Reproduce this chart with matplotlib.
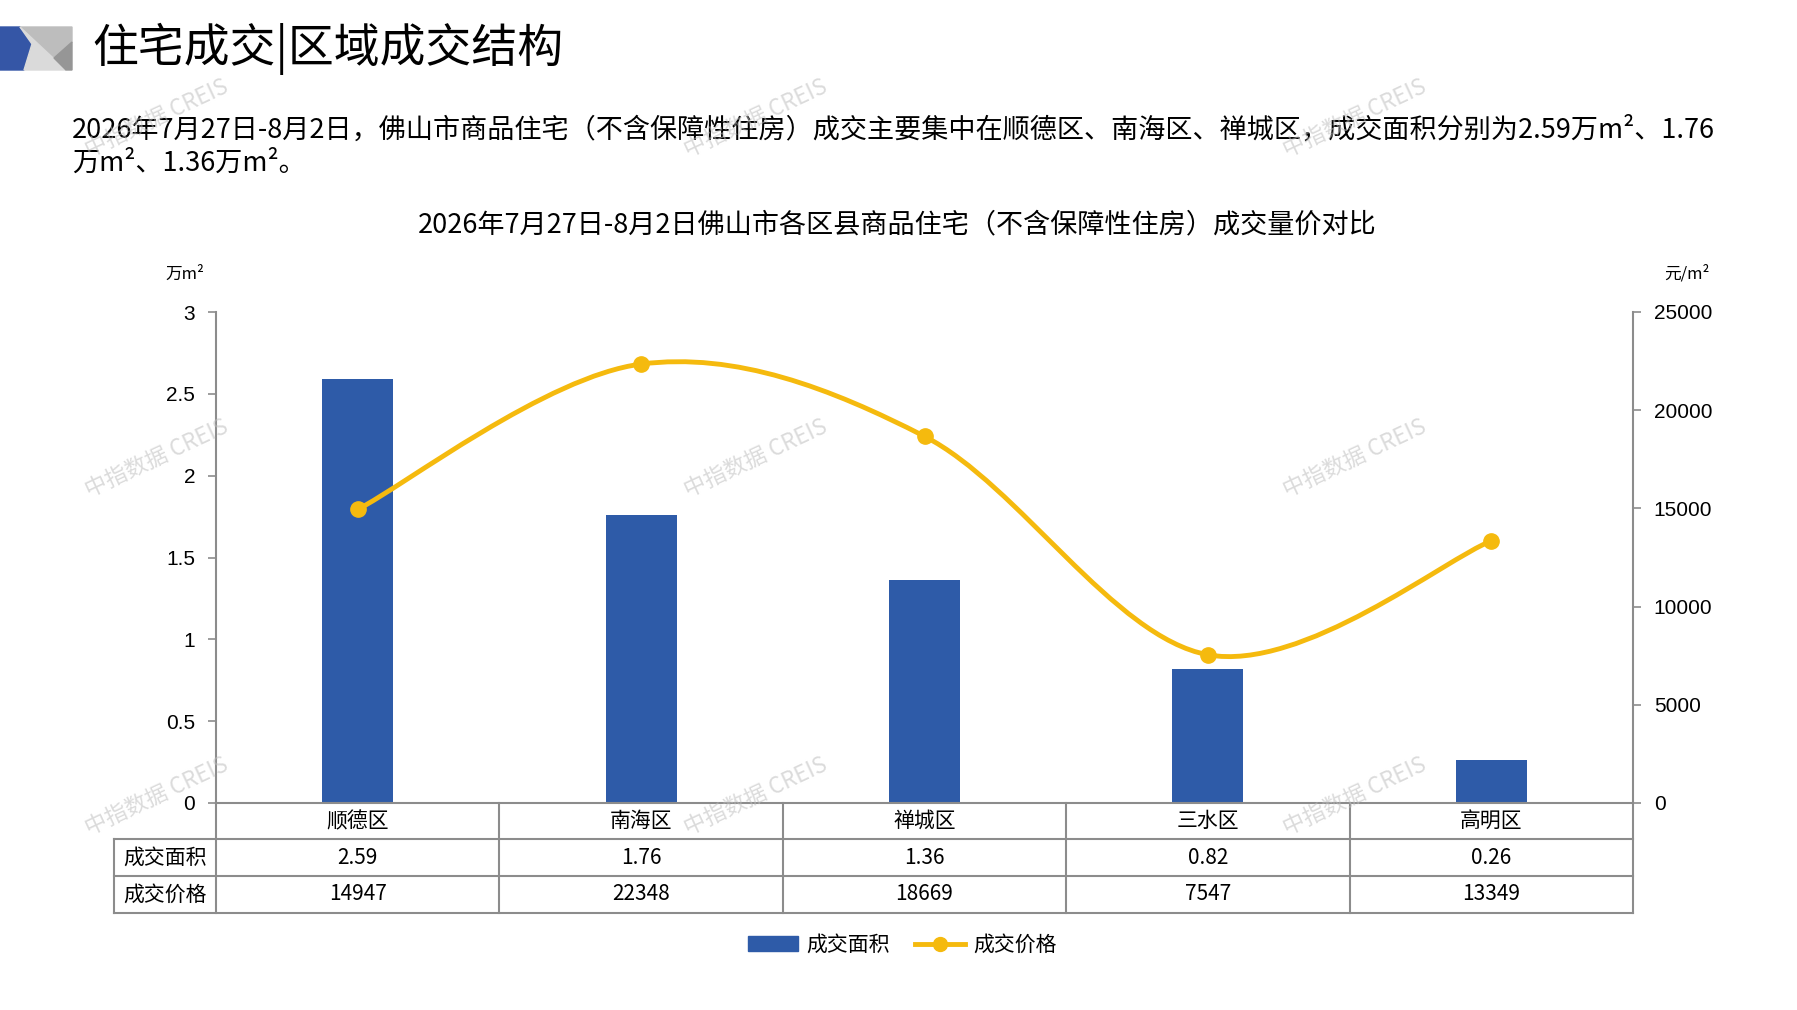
import numpy as np
import matplotlib
matplotlib.use('Agg')
import matplotlib.pyplot as plt
import matplotlib.transforms as mtransforms
from matplotlib.path import Path
from matplotlib.patches import PathPatch, Polygon, Rectangle
from matplotlib.lines import Line2D

plt.rcParams['font.family'] = ['Noto Sans CJK SC', 'DejaVu Sans']

# data
districts = ['顺德区', '南海区', '禅城区', '三水区', '高明区']
area = [2.59, 1.76, 1.36, 0.82, 0.26]          # 万m²
price = [14947, 22348, 18669, 7547, 13349]     # 元/m²
area_ticks = [0, 0.5, 1, 1.5, 2, 2.5, 3]
price_ticks = [0, 5000, 10000, 15000, 20000, 25000]
row_names = ['成交面积', '成交价格']

W, H = 1797, 1010
BLUE = '#2E5BA8'
GOLD = '#F5BA0E'
GREY = '#8C8C8C'
NUM_FONT = ['Liberation Sans', 'DejaVu Sans']

fig = plt.figure(figsize=(W / 100, H / 100), dpi=100)

# plot area in pixels
L, R, T, B = 216, 1633, 312, 803
ax = fig.add_axes([L / W, 1 - B / H, (R - L) / W, (B - T) / H])
x = np.arange(len(districts))
bars = ax.bar(x, area, width=0.25, color=BLUE, zorder=2)
ax.set_xlim(-0.5, len(districts) - 0.5)
ax.set_ylim(0, 3)
ax.set_yticks(area_ticks)
ax.set_yticklabels([f'{t:g}' for t in area_ticks], fontsize=15, family=NUM_FONT)
ax.set_xticks([])
ax.tick_params(axis='y', length=6, width=1.2, color=GREY, pad=9)
for s in ['top', 'right']:
    ax.spines[s].set_visible(False)
for s in ['left', 'bottom']:
    ax.spines[s].set_color(GREY)
    ax.spines[s].set_linewidth(1.5)

ax2 = ax.twinx()
ax2.set_ylim(0, 25000)
ax2.set_yticks(price_ticks)
ax2.set_yticklabels([str(t) for t in price_ticks], fontsize=15, family=NUM_FONT)
ax2.tick_params(axis='y', length=6, width=1.2, color=GREY, pad=9)
for s in ['top', 'left', 'bottom']:
    ax2.spines[s].set_visible(False)
ax2.spines['right'].set_color(GREY)
ax2.spines['right'].set_linewidth(1.5)

# smoothed price line (Catmull-Rom style bezier through the data points)
pts = np.column_stack([x, price]).astype(float)
verts = [pts[0]]
codes = [Path.MOVETO]
n = len(pts)
for i in range(n - 1):
    p_prev = pts[max(i - 1, 0)]
    p0, p1 = pts[i], pts[i + 1]
    p_next = pts[min(i + 2, n - 1)]
    c1 = p0 + (p1 - p_prev) / 6
    c2 = p1 - (p_next - p0) / 6
    verts += [c1, c2, p1]
    codes += [Path.CURVE4] * 3
ax2.add_patch(PathPatch(Path(verts, codes), fill=False, edgecolor=GOLD,
                        lw=3.5, capstyle='round', zorder=3))
ax2.plot(x, price, 'o', color=GOLD, ms=11, zorder=4)

# data table under the axis
trans = mtransforms.blended_transform_factory(ax.transData, ax.transAxes)
def fy(px):
    return (B - px) / (B - T)
rows = [803, 839, 876, 913]
x0 = -0.5 - (L - 114) / ((R - L) / len(districts))
lk = dict(color=GREY, lw=1.5, transform=trans, clip_on=False)
for xv in np.arange(-0.5, len(districts), 1.0):
    ax.plot([xv, xv], [fy(rows[0]), fy(rows[3])], **lk)
ax.plot([x0, x0], [fy(rows[1]), fy(rows[3])], **lk)
for ry in rows[1:]:
    ax.plot([x0, len(districts) - 0.5], [fy(ry), fy(ry)], **lk)

tk = dict(transform=trans, ha='center', va='center', fontsize=15, clip_on=False)
for i, d in enumerate(districts):
    ax.text(i, fy((rows[0] + rows[1]) / 2), d, **tk)
    ax.text(i, fy((rows[1] + rows[2]) / 2), f'{area[i]:.2f}', **tk)
    ax.text(i, fy((rows[2] + rows[3]) / 2), str(price[i]), **tk)
for j, name in enumerate(row_names):
    ax.text((x0 - 0.5) / 2, fy((rows[j + 1] + rows[j + 2]) / 2), name, **tk)

# overlay in pixel coordinates for header, notes and watermark
ov = fig.add_axes([0, 0, 1, 1], zorder=10)
ov.set_xlim(0, W)
ov.set_ylim(H, 0)
ov.axis('off')
ov.patch.set_visible(False)

ov.add_patch(Polygon([(0, 27), (20, 27), (32, 44), (24, 70), (0, 70)], color='#3556A6'))
ov.add_patch(Polygon([(20, 27), (72, 27), (72, 42), (54, 58)], color='#BDBDBD'))
ov.add_patch(Polygon([(20, 27), (66, 70), (24, 70), (32, 44)], color='#DADADA'))
ov.add_patch(Polygon([(72, 42), (54, 58), (66, 70), (72, 70)], color='#969696'))
ov.text(92, 49, '住宅成交|区域成交结构', fontsize=33, va='center', ha='left')

ov.text(72, 130, '2026年7月27日-8月2日，佛山市商品住宅（不含保障性住房）成交主要集中在顺德区、南海区、禅城区，成交面积分别为2.59万m²、1.76',
        fontsize=19.5, va='center', ha='left')
ov.text(72, 163, '万m²、1.36万m²。', fontsize=19.5, va='center', ha='left')

ov.text(897, 225, '2026年7月27日-8月2日佛山市各区县商品住宅（不含保障性住房）成交量价对比',
        fontsize=19.5, va='center', ha='center')
ov.text(185, 274, '万m²', fontsize=12, va='center', ha='center')
ov.text(1687, 274, '元/m²', fontsize=12, va='center', ha='center')

for cy in [118, 458, 796]:
    for cx in [157, 756, 1355]:
        ov.text(cx, cy, '中指数据 CREIS', rotation=25, fontsize=16, color='#BEBEBE',
                alpha=0.55, ha='center', va='center')

handles = [Rectangle((0, 0), 1, 1, color=BLUE),
           Line2D([], [], color=GOLD, lw=3.5, marker='o', ms=10)]
fig.legend(handles, row_names, loc='center', bbox_to_anchor=(902 / W, 1 - 945 / H),
           ncol=2, frameon=False, fontsize=15, handlelength=2.4, columnspacing=1.2,
           handletextpad=0.4)

fig.savefig('out.png', dpi=100)
plt.close(fig)
